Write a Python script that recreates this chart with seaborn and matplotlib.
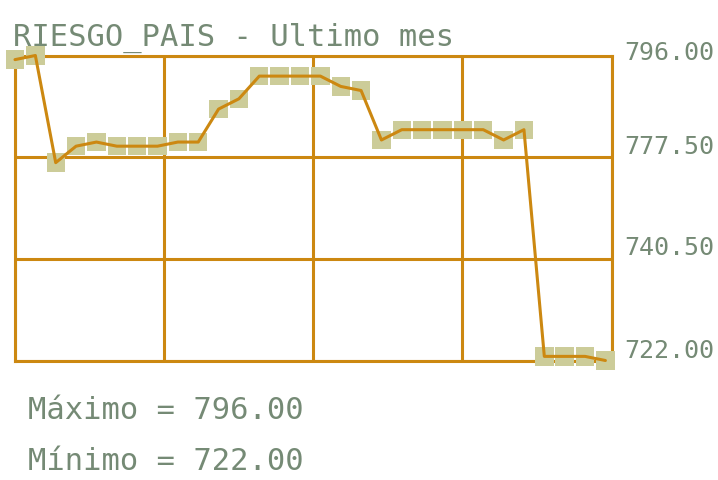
import numpy as np
import pandas as pd
import matplotlib
matplotlib.use('Agg')
import matplotlib.pyplot as plt
import matplotlib.transforms as mtransforms
import seaborn as sns

# ==================== Data ====================
days = list(range(30))
riesgo = [795, 796, 770, 774, 775, 774, 774, 774, 775, 775,
          783, 785.5, 791, 791, 791, 791, 788.5, 787.5, 775.5, 778,
          778, 778, 778, 778, 775.5, 778, 723, 723, 723, 722]
tick_labels = ['722.00', '740.50', '777.50', '796.00']
title = 'RIESGO_PAIS - Ultimo mes'
max_text = 'Máximo = 796.00'
min_text = 'Mínimo = 722.00'

df = pd.DataFrame({'dia': days, 'valor': riesgo})

# ==================== Style ====================
sns.set_style('white')
plt.rcParams['font.family'] = ['DejaVu Sans Mono', 'DejaVu Sans']

orange = '#cc8811'
khaki = '#cccc99'
txt = '#758a75'

fig = plt.figure(figsize=(7.18, 4.80), dpi=100)
ax = fig.add_axes([15 / 718, 1 - 360.5 / 480, 596.5 / 718, 305 / 480])

# markers under the line
sns.scatterplot(data=df, x='dia', y='valor', marker='s', s=175, color=khaki,
                edgecolor='none', linewidth=0, ax=ax, zorder=3, clip_on=False)
sns.lineplot(data=df, x='dia', y='valor', color=orange, linewidth=2.2,
             ax=ax, zorder=4, clip_on=False)

ymin, ymax = min(riesgo), max(riesgo)
xmax = 29.3
ax.set_xlim(0, xmax)
ax.set_ylim(ymin, ymax)

ax.set_xticks(np.linspace(0, xmax, 5))
ax.set_yticks(np.linspace(ymin, ymax, 4))
ax.set_xticklabels([])
ax.set_yticklabels(tick_labels)
ax.yaxis.tick_right()
ax.tick_params(axis='both', length=0)
ax.tick_params(axis='y', pad=9.5, labelsize=18, labelcolor=txt)
ax.grid(True, color=orange, linewidth=2.2)
ax.set_axisbelow(True)
ax.set_xlabel('')
ax.set_ylabel('')

for sp in ax.spines.values():
    sp.set_visible(True)
    sp.set_color(orange)
    sp.set_linewidth(2.2)
    sp.set_zorder(2)

# labels sit a bit above their grid lines
shifts = [12, 13, 13, 5]
for lab, dy in zip(ax.get_yticklabels(), shifts):
    lab.set_transform(lab.get_transform() +
                      mtransforms.ScaledTranslation(0, dy / 100, fig.dpi_scale_trans))

fig.text(13 / 718, 1 - 46 / 480, title, fontsize=22, color=txt, va='baseline')
fig.text(28 / 718, 1 - 419 / 480, max_text, fontsize=22, color=txt, va='baseline')
fig.text(28 / 718, 1 - 470 / 480, min_text, fontsize=22, color=txt, va='baseline')

fig.savefig('out.png', dpi=100)
